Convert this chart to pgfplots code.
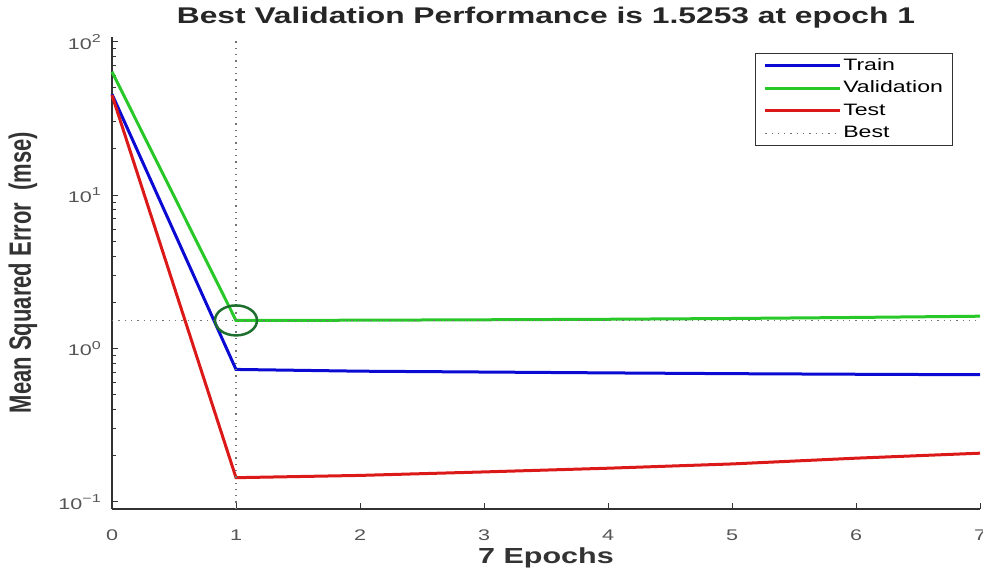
\documentclass[border=0pt]{standalone}
\usepackage{fontspec}
\setmainfont{Liberation Sans}[FakeStretch=1.4]
\newfontfamily\plainsans{Liberation Sans}
\usepackage{pgfplots}
\pgfplotsset{compat=1.18}

\definecolor{trainc}{RGB}{10,10,210}
\definecolor{valc}{RGB}{40,200,40}
\definecolor{testc}{RGB}{220,25,25}
\definecolor{bestc}{RGB}{30,110,45}
\definecolor{axc}{RGB}{50,50,50}
\definecolor{tickc}{RGB}{85,85,85}

\newcommand{\tk}{\fontsize{15.4bp}{17bp}\selectfont}
\newcommand{\sups}[1]{\raisebox{0.45em}{\fontsize{11.5bp}{12bp}\selectfont #1}}

\begin{document}
\begin{tikzpicture}
\begin{axis}[
    name=ax,
    at={(0,0)}, anchor=south west,
    scale only axis,
    width=868bp, height=472bp,
    ymode=log,
    xmin=0, xmax=7,
    ymin=0.09, ymax=107.3,
    axis x line=bottom, axis y line=left,
    axis line style={-, axc, line width=1.2bp},
    xtick={0,1,...,7},
    ytick={0.1,1,10,100},
    yticklabels={10\sups{−1},10\sups{0},10\sups{1},10\sups{2}},
    /pgf/number format/assume math mode=true,
    tick align=inside,
    major tick length=6bp, minor tick length=3.5bp,
    every tick/.style={axc, line width=1bp},
    xticklabel style={font=\tk, text=tickc, anchor=center, yshift=-26bp},
    yticklabel style={font=\tk, text=tickc, anchor=east, inner sep=0pt, xshift=-11bp},
    clip=false,
    legend cell align=left,
    legend image code/.code={\draw[#1] (0bp,0bp) -- (75bp,0bp);},
    legend style={at={(1,1)}, anchor=north east, xshift=-27bp, yshift=-16bp,
        draw=axc, line width=1bp, fill=white,
        font=\fontsize{16.5bp}{18bp}\selectfont,
        inner xsep=8bp, inner ysep=3.5bp, row sep=4.5bp,
        nodes={inner sep=1.5bp, text height=12bp, text depth=3bp},
        every legend text/.style={xshift=3bp}},
]
\addplot[trainc, line width=3bp] coordinates {
    (0,45.5) (1,0.731) (2,0.712) (3,0.703) (4,0.694) (5,0.686) (6,0.680) (7,0.675)};
\addlegendentry{Train}
\addplot[valc, line width=3bp] coordinates {
    (0,63.7) (1,1.5253) (2,1.530) (3,1.540) (4,1.552) (5,1.570) (6,1.595) (7,1.625)};
\addlegendentry{Validation}
\addplot[testc, line width=3bp] coordinates {
    (0,44.9) (1,0.144) (2,0.149) (3,0.157) (4,0.166) (5,0.177) (6,0.193) (7,0.208)};
\addlegendentry{Test}
\addplot[black!55, line width=1.2bp, dash pattern=on 1.3bp off 5bp] coordinates {
    (0,1.5253) (7,1.5253)};
\addlegendentry{Best}
\addplot[black!55, line width=1.2bp, dash pattern=on 1.3bp off 5bp, forget plot] coordinates {
    (1,0.09) (1,107.3)};
\addplot[only marks, mark=o, mark size=15bp, bestc, line width=2.5bp,
    mark options={xscale=1.4}, forget plot] coordinates {(1,1.5253)};
\end{axis}
\node[font=\bfseries\fontsize{22.7bp}{26bp}\selectfont, text=black!85] at (434bp,491bp)
    {Best Validation Performance is 1.5253 at epoch 1};
\node[font=\bfseries\fontsize{21.8bp}{24bp}\selectfont, text=black!80] at (434bp,-49bp)
    {7 Epochs};
\node[rotate=90, font=\plainsans\bfseries\fontsize{22bp}{24bp}\selectfont, text=black!80] at (-89bp,236.5bp)
    {\scalebox{1}[1.4]{Mean Squared Error\ \ (mse)}};
\pgfresetboundingbox
\path (-112bp,-66bp) rectangle (871bp,509bp);
\end{tikzpicture}
\end{document}
